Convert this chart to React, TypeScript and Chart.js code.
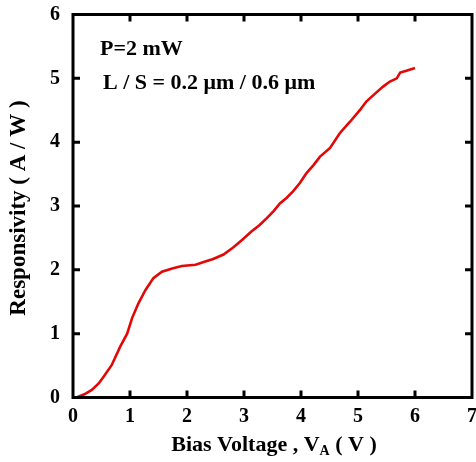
import React, { useEffect, useRef } from "react";
import { Chart, registerables } from "chart.js";

Chart.register(...registerables);

const biasVoltage = [0.08, 0.2, 0.33, 0.45, 0.54, 0.68, 0.83, 0.95, 1.035, 1.15, 1.27, 1.41, 1.56, 1.74, 1.91, 2.15, 2.32, 2.46, 2.64, 2.81, 2.97, 3.13, 3.27, 3.4, 3.52, 3.63, 3.75, 3.86, 3.98, 4.1, 4.22, 4.33, 4.51, 4.68, 4.86, 5.04, 5.15, 5.3, 5.44, 5.56, 5.68, 5.74, 5.85, 6.0];
const responsivity = [0.01, 0.05, 0.12, 0.22, 0.33, 0.51, 0.8, 1.0, 1.24, 1.48, 1.68, 1.87, 1.97, 2.02, 2.06, 2.08, 2.13, 2.17, 2.24, 2.35, 2.47, 2.6, 2.7, 2.81, 2.92, 3.04, 3.13, 3.23, 3.36, 3.52, 3.64, 3.77, 3.91, 4.14, 4.32, 4.51, 4.64, 4.76, 4.87, 4.95, 5.0, 5.09, 5.12, 5.16];
const xTicks = [0, 1, 2, 3, 4, 5, 6, 7];
const yTicks = [0, 1, 2, 3, 4, 5, 6];
const annotationLines = ["P=2 mW", "L / S = 0.2 \u03bcm / 0.6 \u03bcm"];
const yTitle = "Responsivity ( A / W )";
const xTitleMain = "Bias Voltage , V";
const xTitleSub = "A";
const xTitleEnd = " ( V )";

const FONT = "'Liberation Serif', 'Times New Roman', serif";

const framePlugin = {
  id: "framePlugin",
  afterDraw(chart: any) {
    const { ctx, chartArea: a, scales } = chart;
    const xs = scales.x;
    const ys = scales.y;
    ctx.save();
    ctx.strokeStyle = "#000";
    ctx.lineWidth = 3;
    ctx.strokeRect(a.left, a.top, a.right - a.left, a.bottom - a.top);
    const tl = 7;
    ctx.beginPath();
    xTicks.slice(1, -1).forEach((v) => {
      const px = xs.getPixelForValue(v);
      ctx.moveTo(px, a.bottom);
      ctx.lineTo(px, a.bottom - tl);
      ctx.moveTo(px, a.top);
      ctx.lineTo(px, a.top + tl);
    });
    yTicks.slice(1, -1).forEach((v) => {
      const py = ys.getPixelForValue(v);
      ctx.moveTo(a.left, py);
      ctx.lineTo(a.left + tl, py);
      ctx.moveTo(a.right, py);
      ctx.lineTo(a.right - tl, py);
    });
    ctx.stroke();

    ctx.fillStyle = "#000";
    // annotation
    ctx.font = `bold 22px ${FONT}`;
    ctx.textAlign = "left";
    ctx.textBaseline = "alphabetic";
    ctx.fillText(annotationLines[0], 100, 55);
    ctx.fillText(annotationLines[1], 103, 89);

    // x title with subscript
    const big = `bold 22px ${FONT}`;
    const small = `bold 14px ${FONT}`;
    ctx.font = big;
    const w1 = ctx.measureText(xTitleMain).width;
    ctx.font = small;
    const w2 = ctx.measureText(xTitleSub).width;
    ctx.font = big;
    const w3 = ctx.measureText(xTitleEnd).width;
    const total = w1 + w2 + w3;
    const cx = (a.left + a.right) / 2 + 1.5;
    const x0 = cx - total / 2;
    const base = 451;
    ctx.fillText(xTitleMain, x0, base);
    ctx.font = small;
    ctx.fillText(xTitleSub, x0 + w1, base + 4);
    ctx.font = big;
    ctx.fillText(xTitleEnd, x0 + w1 + w2, base);

    // y title
    ctx.save();
    ctx.translate(25, (a.top + a.bottom) / 2 + 2);
    ctx.rotate(-Math.PI / 2);
    ctx.textAlign = "center";
    ctx.font = `bold 23px ${FONT}`;
    ctx.fillText(yTitle, 0, 0);
    ctx.restore();

    ctx.restore();
  },
};

export default function App() {
  const ref = useRef<HTMLCanvasElement | null>(null);
  useEffect(() => {
    if (!ref.current) return;
    const chart = new Chart(ref.current, {
      type: "line",
      data: {
        datasets: [
          {
            data: biasVoltage.map((x, i) => ({ x, y: responsivity[i] })),
            borderColor: "rgb(226, 8, 8)",
            borderWidth: 2.6,
            pointRadius: 0,
            tension: 0,
            fill: false,
          },
        ],
      },
      options: {
        animation: false,
        responsive: false,
        maintainAspectRatio: false,
        layout: { padding: { top: 14.5, right: 4, left: 0, bottom: 0 } },
        plugins: { legend: { display: false }, tooltip: { enabled: false }, title: { display: false } },
        scales: {
          x: {
            type: "linear",
            min: 0,
            max: 7,
            afterBuildTicks: (s: any) => {
              s.ticks = xTicks.map((v) => ({ value: v }));
            },
            afterFit: (s: any) => {
              s.height = 64.5;
              s.paddingLeft = 0;
              s.paddingRight = 0;
            },
            grid: { display: false, drawTicks: false },
            border: { display: false },
            ticks: {
              padding: 7,
              maxRotation: 0,
              color: "#000",
              font: { family: FONT, weight: "bold", size: 20 },
            },
          },
          y: {
            type: "linear",
            min: 0,
            max: 6,
            afterBuildTicks: (s: any) => {
              s.ticks = yTicks.map((v) => ({ value: v }));
            },
            afterFit: (s: any) => {
              s.width = 73;
              s.paddingTop = 0;
              s.paddingBottom = 0;
            },
            grid: { display: false, drawTicks: false },
            border: { display: false },
            ticks: {
              padding: 13,
              color: "#000",
              font: { family: FONT, weight: "bold", size: 20 },
            },
          },
        },
      },
      plugins: [framePlugin],
    } as any);
    return () => chart.destroy();
  }, []);
  return (
    <div style={{ position: "absolute", left: 0, top: 0, width: 476, height: 462 }}>
      <canvas ref={ref} width={476} height={462} style={{ width: 476, height: 462 }} />
    </div>
  );
}
